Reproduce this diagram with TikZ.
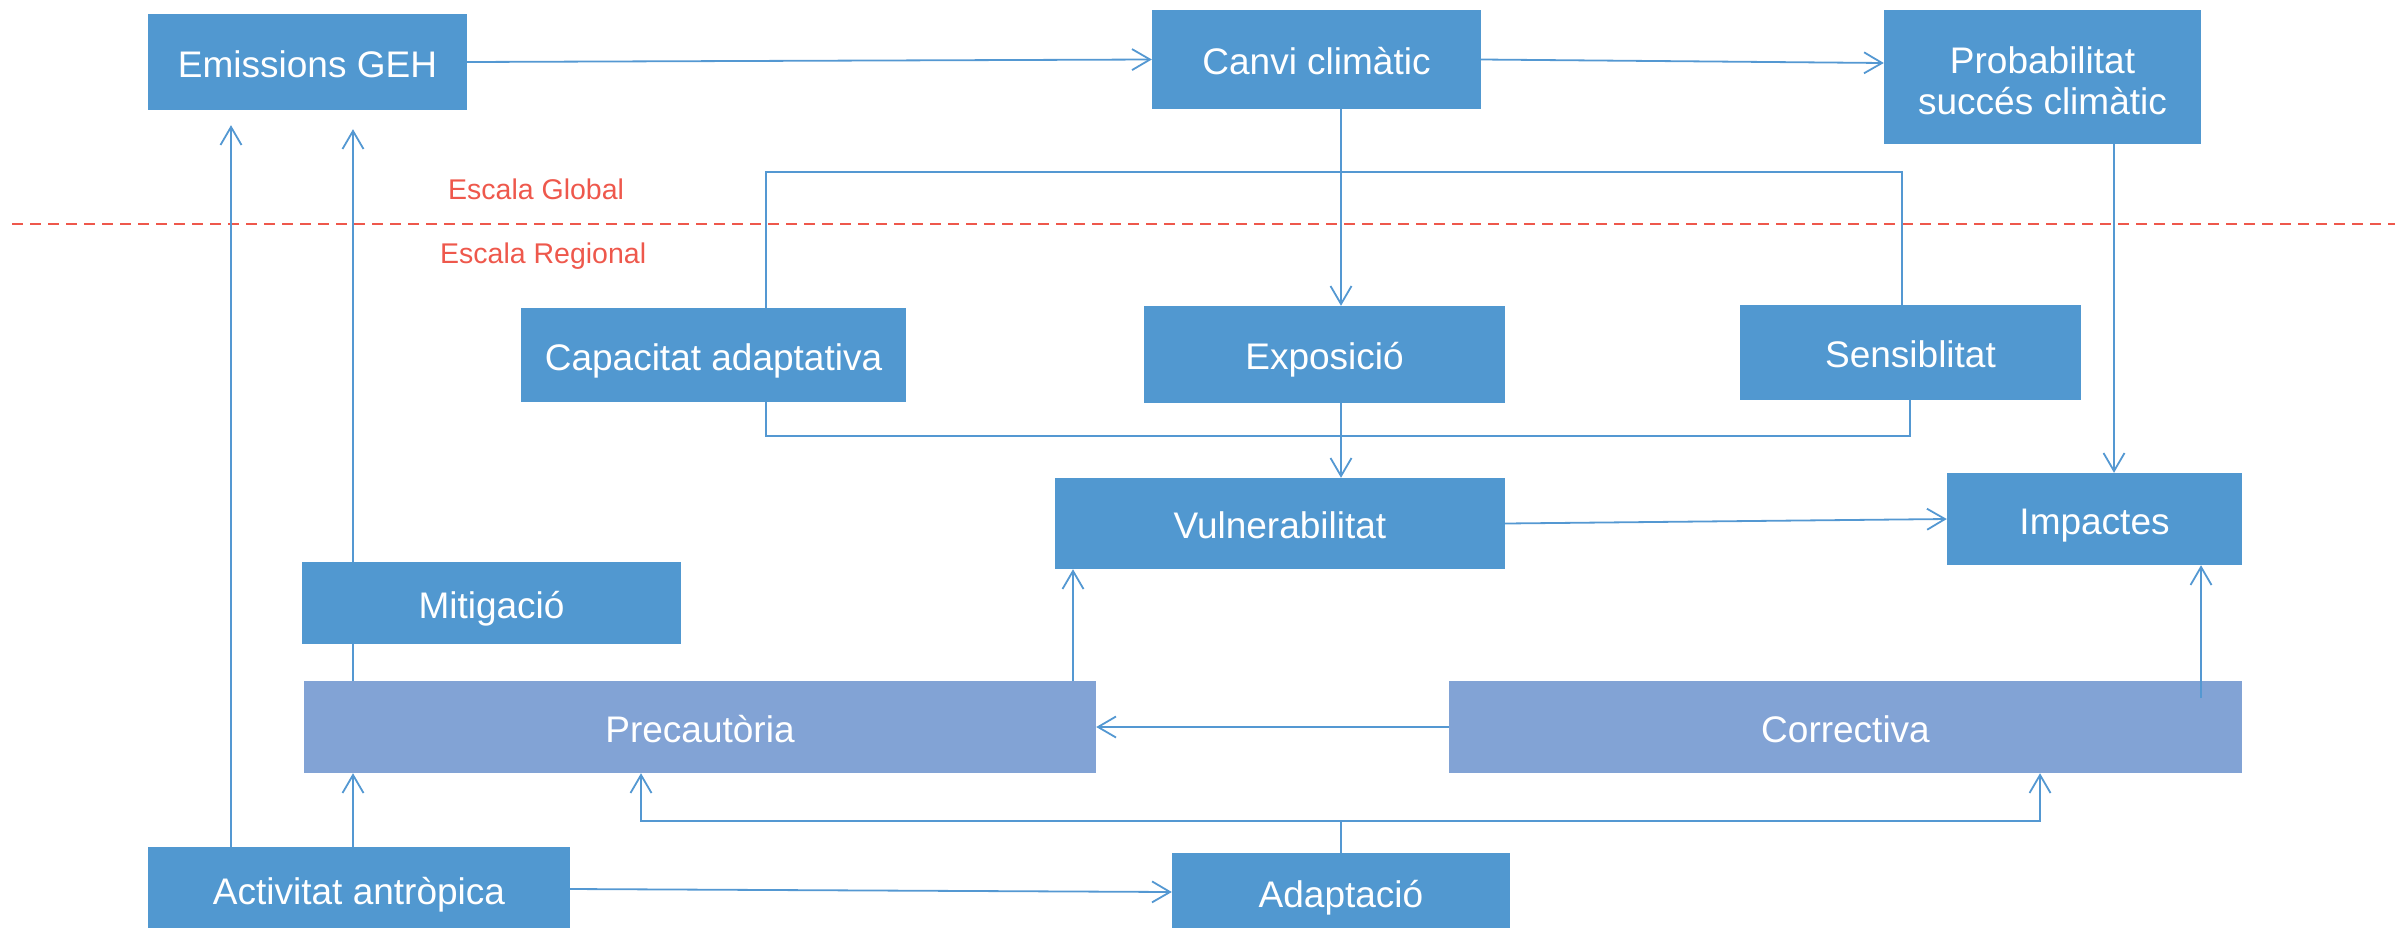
\documentclass[tikz,border=0pt]{standalone}
\usepackage{fontspec}
\setmainfont{Liberation Sans}
\usetikzlibrary{arrows.meta}
\definecolor{boxblue}{RGB}{81,152,208}
\definecolor{boxlight}{RGB}{130,163,213}
\definecolor{linkblue}{RGB}{84,152,210}
\definecolor{scalered}{RGB}{238,88,76}
\tikzset{
  bx/.style={fill=boxblue, draw=none, inner sep=0pt, text=white,
    font=\fontsize{37}{40}\selectfont, text height=30pt, text depth=0pt},
  lbx/.style={bx, fill=boxlight},
  ln/.style={draw=linkblue, line width=1.8pt},
  arr/.style={ln, -{Straight Barb[length=18pt,width=21pt,line width=1.8pt]}},
  scaletext/.style={text=scalered, font=\fontsize{28.5}{30}\selectfont, inner sep=0pt},
  scaleline/.style={draw=scalered, line width=2pt, dash pattern=on 11pt off 7pt}
}
\begin{document}
\begin{tikzpicture}[x=1pt,y=-1pt]
\useasboundingbox (0,0) rectangle (2395,927);
% boxes
\node[bx, minimum width=319pt, minimum height=96pt] (em) at (307.5,62) {Emissions GEH};
\node[bx, minimum width=329pt, minimum height=99pt] (canvi) at (1316.5,59.5) {Canvi climàtic};
\node[bx, minimum width=317pt, minimum height=134pt, align=center, text height=, text depth=,
  font=\fontsize{37}{40.5}\selectfont] (prob) at (2042.5,77) {\rule{0pt}{34.5pt}Probabilitat\\succés climàtic};
\node[bx, minimum width=385pt, minimum height=94pt] (cap) at (713.5,355) {Capacitat adaptativa};
\node[bx, minimum width=361pt, minimum height=97pt] (expo) at (1324.5,354.5) {Exposició};
\node[bx, minimum width=341pt, minimum height=95pt] (sens) at (1910.5,352.5) {Sensiblitat};
\node[bx, minimum width=450pt, minimum height=91pt] (vuln) at (1280,523.5) {Vulnerabilitat};
\node[bx, minimum width=295pt, minimum height=92pt] (imp) at (2094.5,519) {Impactes};
\node[bx, minimum width=379pt, minimum height=82pt] (mit) at (491.5,603) {Mitigació};
\node[lbx, minimum width=792pt, minimum height=92pt] (prec) at (700,727) {Precautòria};
\node[lbx, minimum width=793pt, minimum height=92pt] (corr) at (1845.5,727) {Correctiva};
\node[bx, minimum width=422pt, minimum height=84pt] (act) at (359,889) {Activitat antròpica};
\node[bx, minimum width=338pt, minimum height=78pt] (adap) at (1341,892) {Adaptació};
% scale separation
\coordinate (dl) at (12,224);
\coordinate (dr) at (2395,224);
\draw[scaleline] (dl) -- (dr);
\node[scaletext, anchor=base west] (eg) at (448,199) {Escala Global};
\node[scaletext, anchor=base west] (er) at (440,263) {Escala Regional};
% helper coordinates
\coordinate (xc) at (1341,0);
\coordinate (xp) at (2114,0);
\coordinate (tl) at (766,172);
\coordinate (tr) at (1902,172);
\coordinate (bl) at (766,436);
\coordinate (br) at (1910,436);
\coordinate (xv) at (1073,0);
\coordinate (ci) at (2201,698);
\coordinate (xa) at (231,0);
\coordinate (xm) at (353,0);
\coordinate (bj) at (1341,821);
\coordinate (bjl) at (641,0);
\coordinate (bjr) at (2040,0);
% connectors
\draw[arr] (em.east) -- (canvi.west);
\draw[arr] (canvi.east) -- ([yshift=14pt]prob.west);
\draw[arr] (canvi.south -| xc) -- (expo.north -| xc);
\draw[arr] (expo.south -| xc) -- (vuln.north -| xc);
\draw[arr] (prob.south -| xp) -- (imp.north -| xp);
\draw[ln] (cap.north -| tl) -- (tl) -- (tr) -- (sens.north -| tr);
\draw[ln] (cap.south -| bl) -- (bl) -- (br) -- (sens.south -| br);
\draw[arr] (vuln.east) -- (imp.west);
\draw[arr] (prec.north -| xv) -- (vuln.south -| xv);
\draw[arr] (ci) -- (imp.south -| ci);
\draw[arr] (corr.west) -- (prec.east);
\draw[arr, shorten >=15pt] (act.north -| xa) -- (em.south -| xa);
\draw[ln] (prec.north -| xm) -- (mit.south -| xm);
\draw[arr, shorten >=19pt] (mit.north -| xm) -- (em.south -| xm);
\draw[arr] (act.north -| xm) -- (prec.south -| xm);
\draw[arr] (act.east) -- (adap.west);
\draw[ln] (adap.north) -- (bj);
\draw[arr] (bj) -| (prec.south -| bjl);
\draw[arr] (bj) -| (corr.south -| bjr);
\end{tikzpicture}
\end{document}
